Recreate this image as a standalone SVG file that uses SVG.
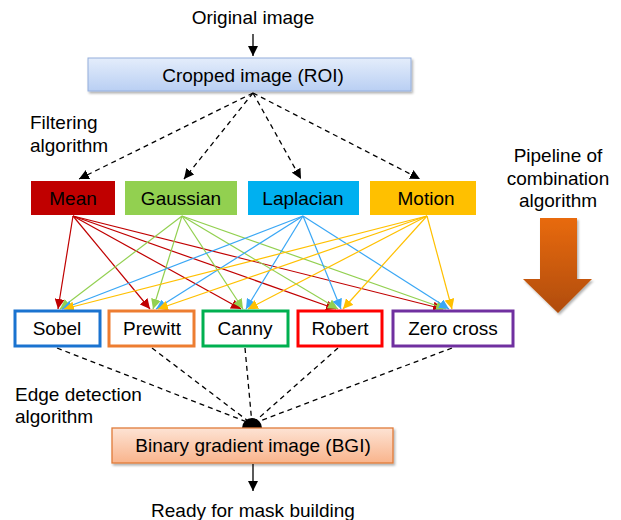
<svg xmlns="http://www.w3.org/2000/svg" width="621" height="520" viewBox="0 0 621 520">
<defs>
<style>
text{font-family:"Liberation Sans",Arial,sans-serif;font-size:19px;fill:#000;text-anchor:middle}
.lbl{text-anchor:start}
.dash{stroke:#000;stroke-width:1.3;stroke-dasharray:5,4;fill:none}
.r{stroke:#C00000;stroke-width:1.2;fill:none;marker-end:url(#mr)}
.g{stroke:#92D050;stroke-width:1.2;fill:none;marker-end:url(#mg)}
.b{stroke:#3AA7F5;stroke-width:1.2;fill:none;marker-end:url(#mb)}
.y{stroke:#FFC000;stroke-width:1.2;fill:none;marker-end:url(#my)}
.eb{fill:#fff;stroke-width:3}
</style>
<marker id="mk" viewBox="0 0 10 10" refX="10" refY="5" markerWidth="10" markerHeight="10" markerUnits="userSpaceOnUse" orient="auto"><path d="M0,0 L10,5 L0,10 z" fill="#000"/></marker>
<marker id="mr" viewBox="0 0 10 10" refX="10" refY="5" markerWidth="10" markerHeight="10" markerUnits="userSpaceOnUse" orient="auto"><path d="M0,0 L10,5 L0,10 z" fill="#C00000"/></marker>
<marker id="mg" viewBox="0 0 10 10" refX="10" refY="5" markerWidth="10" markerHeight="10" markerUnits="userSpaceOnUse" orient="auto"><path d="M0,0 L10,5 L0,10 z" fill="#92D050"/></marker>
<marker id="mb" viewBox="0 0 10 10" refX="10" refY="5" markerWidth="10" markerHeight="10" markerUnits="userSpaceOnUse" orient="auto"><path d="M0,0 L10,5 L0,10 z" fill="#3AA7F5"/></marker>
<marker id="my" viewBox="0 0 10 10" refX="10" refY="5" markerWidth="10" markerHeight="10" markerUnits="userSpaceOnUse" orient="auto"><path d="M0,0 L10,5 L0,10 z" fill="#FFC000"/></marker>
<linearGradient id="gBlue" x1="0" y1="0" x2="0" y2="1"><stop offset="0" stop-color="#E4EDFB"/><stop offset="1" stop-color="#B9CFF3"/></linearGradient>
<linearGradient id="gPeach" x1="0" y1="0" x2="0" y2="1"><stop offset="0" stop-color="#FDE3D4"/><stop offset="1" stop-color="#F9B48C"/></linearGradient>
<linearGradient id="gArrow" x1="0" y1="0" x2="0" y2="1"><stop offset="0" stop-color="#E86A0A"/><stop offset="1" stop-color="#B04C08"/></linearGradient>
<filter id="sh" x="-10%" y="-10%" width="130%" height="140%"><feDropShadow dx="1.5" dy="2" stdDeviation="1.2" flood-opacity="0.3"/></filter>
</defs>

<g id="connectors">
<line x1="253" y1="34" x2="253" y2="56" stroke="#000" stroke-width="1.3" marker-end="url(#mk)"/>
<line class="dash" x1="253" y1="93" x2="79" y2="179" marker-end="url(#mk)"/>
<line class="dash" x1="253" y1="93" x2="184" y2="179" marker-end="url(#mk)"/>
<line class="dash" x1="253" y1="93" x2="301" y2="179" marker-end="url(#mk)"/>
<line class="dash" x1="253" y1="93" x2="420" y2="179" marker-end="url(#mk)"/>

<line class="r" x1="73" y1="216" x2="58" y2="309"/>
<line class="r" x1="73" y1="216" x2="150" y2="309"/>
<line class="r" x1="73" y1="216" x2="241" y2="309"/>
<line class="r" x1="73" y1="216" x2="336" y2="309"/>
<line class="r" x1="73" y1="216" x2="443" y2="309"/>

<line class="g" x1="182" y1="216" x2="60" y2="309"/>
<line class="g" x1="182" y1="216" x2="153" y2="309"/>
<line class="g" x1="182" y1="216" x2="243" y2="309"/>
<line class="g" x1="182" y1="216" x2="338" y2="309"/>
<line class="g" x1="182" y1="216" x2="446" y2="309"/>

<line class="b" x1="303" y1="216" x2="62" y2="309"/>
<line class="b" x1="303" y1="216" x2="156" y2="309"/>
<line class="b" x1="303" y1="216" x2="246" y2="309"/>
<line class="b" x1="303" y1="216" x2="341" y2="309"/>
<line class="b" x1="303" y1="216" x2="449" y2="309"/>

<line class="y" x1="427" y1="216" x2="64" y2="309"/>
<line class="y" x1="427" y1="216" x2="158" y2="309"/>
<line class="y" x1="427" y1="216" x2="248" y2="309"/>
<line class="y" x1="427" y1="216" x2="343" y2="309"/>
<line class="y" x1="427" y1="216" x2="452" y2="309"/>

<line class="dash" x1="57" y1="348" x2="252" y2="424"/>
<line class="dash" x1="152" y1="348" x2="252" y2="424"/>
<line class="dash" x1="245" y1="348" x2="252" y2="424"/>
<line class="dash" x1="338" y1="348" x2="252" y2="424"/>
<line class="dash" x1="452" y1="348" x2="252" y2="424"/>
<path d="M242,428 A10,10 0 0 1 262,428 Z" fill="#000"/>

<line x1="253" y1="464" x2="253" y2="491" stroke="#000" stroke-width="1.3" marker-end="url(#mk)"/>
</g>

<g id="original"><text x="253" y="24">Original image</text></g>

<g id="roi">
<rect x="88" y="58" width="323" height="33" fill="url(#gBlue)" stroke="#94AEDC" stroke-width="1" filter="url(#sh)"/>
<text x="253" y="81.5">Cropped image (ROI)</text>
</g>

<g id="filtering-label">
<text class="lbl" x="30" y="129">Filtering</text>
<text class="lbl" x="30" y="152">algorithm</text>
</g>

<g id="mean"><rect x="31" y="181" width="84" height="34" fill="#C00000"/><text x="73" y="205">Mean</text></g>
<g id="gaussian"><rect x="125" y="181" width="112" height="34" fill="#92D050"/><text x="181" y="205">Gaussian</text></g>
<g id="laplacian"><rect x="248" y="181" width="111" height="34" fill="#00B0F0"/><text x="303" y="205">Laplacian</text></g>
<g id="motion"><rect x="370" y="181" width="106" height="34" fill="#FFC000"/><text x="426" y="205">Motion</text></g>

<g id="pipeline">
<text x="558" y="162">Pipeline of</text>
<text x="558" y="185">combination</text>
<text x="558" y="207">algorithm</text>
<path d="M540,218 L577,218 L577,279 L592,279 L558,313 L523,279 L540,279 Z" fill="url(#gArrow)" filter="url(#sh)"/>
</g>

<g id="sobel"><rect class="eb" x="15" y="311" width="85" height="35" stroke="#1A73D0"/><text x="57" y="335">Sobel</text></g>
<g id="prewitt"><rect class="eb" x="109" y="311" width="85" height="35" stroke="#ED7D31"/><text x="152" y="335">Prewitt</text></g>
<g id="canny"><rect class="eb" x="203" y="311" width="85" height="35" stroke="#00B050"/><text x="245" y="335">Canny</text></g>
<g id="robert"><rect class="eb" x="298" y="311" width="84" height="35" stroke="#FF0000"/><text x="340" y="335">Robert</text></g>
<g id="zerocross"><rect class="eb" x="393" y="311" width="120" height="35" stroke="#7030A0"/><text x="453" y="335">Zero cross</text></g>

<g id="edge-label">
<text class="lbl" x="15" y="401">Edge detection</text>
<text class="lbl" x="15" y="423">algorithm</text>
</g>

<g id="bgi">
<rect x="112" y="428" width="281" height="35" fill="url(#gPeach)" stroke="#E07B39" stroke-width="1.3" filter="url(#sh)"/>
<text x="253" y="452">Binary gradient image (BGI)</text>
</g>

<g id="ready"><text x="253" y="517">Ready for mask building</text></g>
</svg>
